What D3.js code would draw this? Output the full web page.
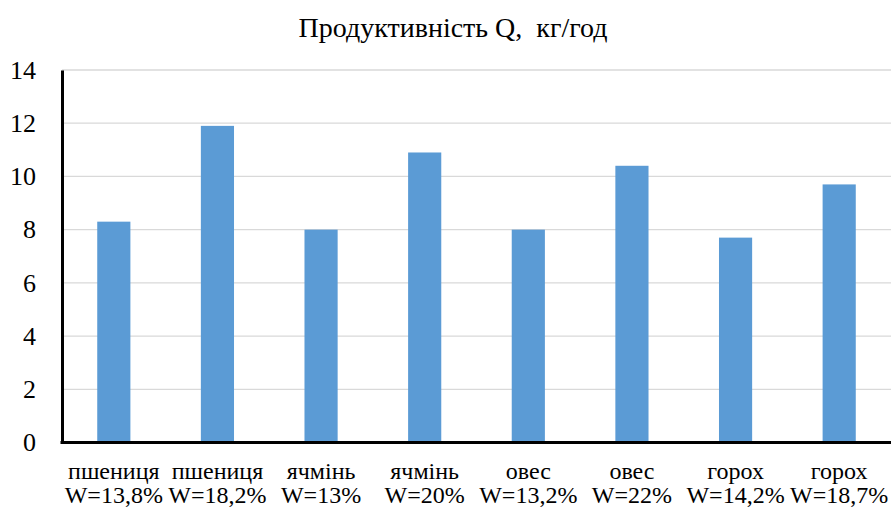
<!DOCTYPE html>
<html>
<head>
<meta charset="utf-8">
<script src="https://cdn.jsdelivr.net/npm/d3@7"></script>
<style>
  html, body { margin: 0; padding: 0; background: #ffffff; }
  svg { display: block; }
  svg text { font-family: "Liberation Serif", "Noto Serif", "DejaVu Serif", FreeSerif, Tinos, "Times New Roman", serif !important; fill: #000; }
</style>
</head>
<body>
<svg id="chart" width="892" height="509"></svg>
<script>
// Crop names and moisture levels for each bar
const crops = ["пшениця", "пшениця", "ячмінь", "ячмінь", "овес", "овес", "горох", "горох"];
const moisture = ["W=13,8%", "W=18,2%", "W=13%", "W=20%", "W=13,2%", "W=22%", "W=14,2%", "W=18,7%"];
// Productivity Q, kg/h
const productivity = [8.3, 11.9, 8.0, 10.9, 8.0, 10.4, 7.7, 9.7];
const yTicks = [0, 2, 4, 6, 8, 10, 12, 14];
const title = "Продуктивність Q,  кг/год";

const svg = d3.select("#chart");
const plotLeft = 62, plotRight = 891, plotTop = 70, plotBottom = 442.5;

const idx = d3.range(productivity.length);
const x = d3.scaleBand().domain(idx).range([plotLeft, plotRight]).paddingInner(0.68).paddingOuter(0.34);
const y = d3.scaleLinear().domain([0, 14]).range([plotBottom, plotTop]);

// Horizontal gridlines
svg.append("g")
  .selectAll("line")
  .data(yTicks.filter(t => t > 0))
  .join("line")
  .attr("x1", plotLeft).attr("x2", plotRight)
  .attr("y1", d => y(d)).attr("y2", d => y(d))
  .attr("stroke", "#d9d9d9").attr("stroke-width", 1.3);

// Bars
svg.append("g")
  .selectAll("rect")
  .data(idx)
  .join("rect")
  .attr("x", i => x(i))
  .attr("width", x.bandwidth())
  .attr("y", i => y(productivity[i]))
  .attr("height", i => y(0) - y(productivity[i]))
  .attr("fill", "#5b9bd5");

// Y axis: line plus tick labels
const yAxis = d3.axisLeft(y).tickValues(yTicks).tickSize(0).tickPadding(26).tickFormat(d3.format("d"));
const gy = svg.append("g").attr("transform", `translate(${plotLeft},0)`).call(yAxis);
gy.attr("font-family", null);
gy.select(".domain").attr("stroke", "#000").attr("stroke-width", 3);
gy.selectAll("text").attr("font-size", 26).attr("fill", "#000");

// X axis baseline
svg.append("line")
  .attr("x1", plotLeft - 1.5).attr("x2", plotRight)
  .attr("y1", y(0)).attr("y2", y(0))
  .attr("stroke", "#000").attr("stroke-width", 3);

// Two-line category labels
const labels = svg.append("g")
  .selectAll("text")
  .data(idx)
  .join("text")
  .attr("text-anchor", "middle")
  .attr("font-size", 24);
labels.append("tspan").attr("x", i => x(i) + x.bandwidth() / 2).attr("y", 479).text(i => crops[i]);
labels.append("tspan").attr("x", i => x(i) + x.bandwidth() / 2).attr("y", 503).text(i => moisture[i]);

// Title
svg.append("text")
  .attr("x", 453).attr("y", 37)
  .attr("text-anchor", "middle")
  .attr("font-size", 28)
  .style("white-space", "pre")
  .text(title);
</script>
</body>
</html>
